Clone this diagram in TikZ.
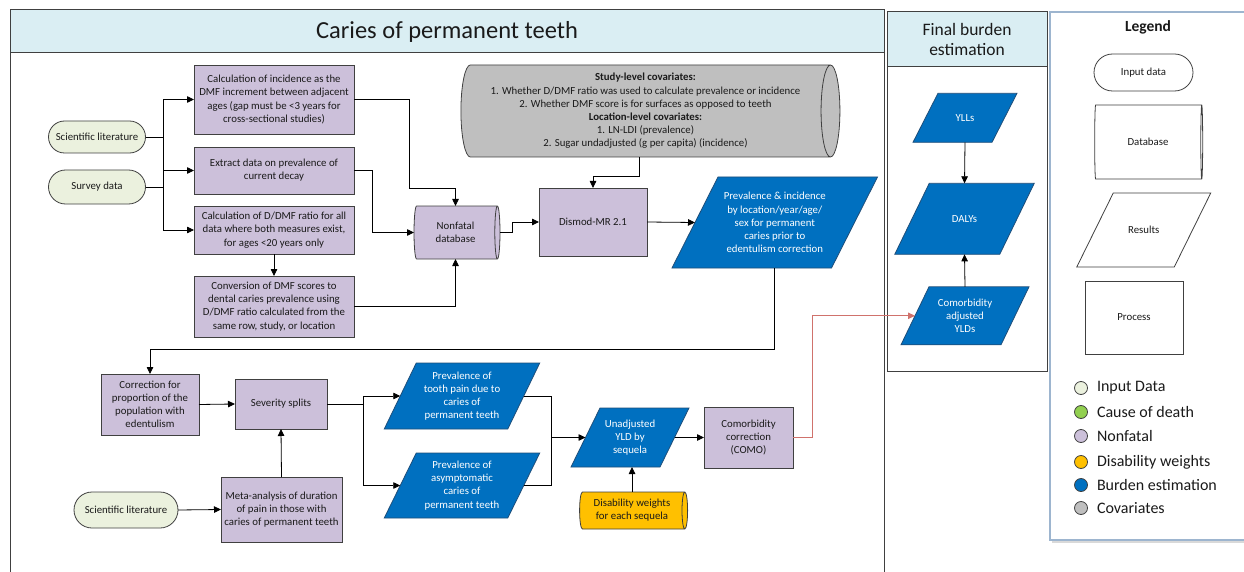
\documentclass[tikz,border=0pt]{standalone}
\usepackage{fontspec}
\setmainfont{Carlito}
\usetikzlibrary{shapes.geometric,shapes.misc,arrows.meta,calc}
\definecolor{hdr}{HTML}{DAEEF3}
\definecolor{nonfatal}{HTML}{CCC0DA}
\definecolor{inputc}{HTML}{EBF1DE}
\definecolor{burden}{HTML}{0070C0}
\definecolor{burdenline}{HTML}{1F4E79}
\definecolor{covc}{HTML}{BFBFBF}
\definecolor{dwc}{HTML}{FFC000}
\definecolor{codc}{HTML}{92D050}
\definecolor{linec}{HTML}{404040}
\definecolor{redc}{HTML}{D0726C}
\definecolor{legframe}{HTML}{9DB5CF}
\definecolor{txt}{HTML}{1A1A1A}
% #1 shape style, #2 name, #3 x, #4 y, #5 mid width, #6 height, #7 slant, #8 text
\newcommand{\paran}[8][burdenshape]{%
  \path[#1] ({#3-#5/2-#7/2},{#4+#6/2}) -- ({#3+#5/2-#7/2},{#4+#6/2}) -- ({#3+#5/2+#7/2},{#4-#6/2}) -- ({#3-#5/2+#7/2},{#4-#6/2}) -- cycle;
  \node[paratext, minimum width=#5pt, minimum height=#6pt] (#2) at (#3,#4) {#8};
}
\begin{document}
\begin{tikzpicture}[x=1pt,y=-1pt,
  every node/.style={inner sep=0pt, outer sep=0pt, text=txt},
  fs/.style={font=\fontsize{10.8}{13.2}\selectfont},
  proc/.style={rectangle, draw=linec, line width=0.8pt, fill=nonfatal, align=center, fs},
  inp/.style={rounded rectangle, draw=linec, line width=0.8pt, fill=inputc, align=center, fs},
  cyl/.style={cylinder, shape aspect=0.25, draw=linec, line width=0.8pt, align=center, fs},
  burdenshape/.style={draw=burdenline, line width=0.8pt, fill=burden},
  resultshape/.style={draw=linec, line width=0.8pt, fill=white},
  paratext/.style={align=center, fs, text=white},
  arr/.style={draw=black, line width=0.8pt, -{Triangle[length=7pt,width=6.5pt]}},
  conn/.style={draw=black, line width=0.8pt},
  dot/.style={circle, draw=linec, line width=0.8pt, minimum size=13pt},
  legtxt/.style={anchor=west, font=\fontsize{16}{18}\selectfont},
]
\useasboundingbox (0,0) rectangle (1244,572);
\fill[white] (0,0) rectangle (1244,572);

% ---- panels
\fill[hdr] (10,10) rectangle (884,53);
\draw[linec, line width=1pt] (10,580) -- (10,10) -- (884,10) -- (884,580);
\draw[linec, line width=1pt] (10,53) -- (884,53);
\node[font=\fontsize{24.5}{28}\selectfont] (title) at (447,32) {Caries of permanent teeth};

\draw[linec, line width=1pt, fill=hdr] (887,12) rectangle (1047,67);
\draw[linec, line width=1pt] (887,12) rectangle (1047,371);
\node[align=center, font=\fontsize{17.5}{20}\selectfont] (ftitle) at (967,39) {Final burden\\estimation};

\draw[black!15, line width=2pt] (1052,542) -- (1250,542);
\draw[legframe, line width=1.2pt] (1250,12) -- (1050,12) -- (1050,540) -- (1250,540);
\node[font=\bfseries\fontsize{15.5}{18}\selectfont] (legtitle) at (1148,27) {Legend};

% ---- caries panel nodes
\node[inp, minimum width=97pt, minimum height=32pt] (lit1) at (97,137) {Scientific literature};
\node[inp, minimum width=97pt, minimum height=34pt] (survey) at (97,187) {Survey data};
\node[proc, minimum width=160pt, minimum height=69pt] (calcinc) at (274,99.5) {Calculation of incidence as the\\DMF increment between adjacent\\ages (gap must be <3 years for\\cross-sectional studies)};
\node[proc, minimum width=160pt, minimum height=47pt] (extract) at (274,170.5) {Extract data on prevalence of\\current decay};
\node[proc, minimum width=160pt, minimum height=48pt] (dmfratio) at (274,230) {Calculation of D/DMF ratio for all\\data where both measures exist,\\for ages <20 years only};
\node[proc, minimum width=160pt, minimum height=61pt] (conversion) at (274,306.5) {Conversion of DMF scores to\\dental caries prevalence using\\D/DMF ratio calculated from the\\same row, study, or location};
\node[cyl, fill=nonfatal, minimum height=86pt, minimum width=53pt] (nfdb) at (455.5,232.5) {Nonfatal\\database};
\node[cyl, fill=covc, minimum height=379pt, minimum width=92pt] (cov) at (645.5,111) {\textbf{Study-level covariates:}\\1. Whether D/DMF ratio was used to calculate prevalence or incidence\\2. Whether DMF score is for surfaces as opposed to teeth\\\textbf{Location-level covariates:}\\1. LN-LDI (prevalence)\\2. Sugar undadjusted (g per capita) (incidence)};
\node[proc, minimum width=108pt, minimum height=68pt] (dismod) at (593,222) {Dismod-MR 2.1};
\paran{prev}{774.75}{222.5}{159.5}{91}{46}{Prevalence \& incidence\\by location/year/age/\\sex for permanent\\caries prior to\\edentulism correction}

\node[proc, minimum width=98pt, minimum height=61pt] (corr) at (150,404.5) {Correction for\\proportion of the\\population with\\edentulism};
\node[proc, minimum width=92pt, minimum height=50pt] (sev) at (281,404) {Severity splits};
\node[proc, minimum width=121pt, minimum height=65pt] (meta) at (281.5,509.5) {Meta-analysis of duration\\of pain in those with\\caries of permanent teeth};
\node[inp, minimum width=104pt, minimum height=36pt] (lit2) at (126,510) {Scientific literature};
\paran{pain}{462}{396}{123.5}{66}{32}{Prevalence of\\tooth pain due to\\caries of\\permanent teeth}
\paran{asym}{462}{485.5}{123.5}{65}{32}{Prevalence of\\asymptomatic\\caries of\\permanent teeth}
\paran{unadj}{630}{437.5}{89}{59}{29}{Unadjusted\\YLD by\\sequela}
\node[proc, minimum width=89pt, minimum height=61pt] (como) at (748.5,437.5) {Comorbidity\\correction\\(COMO)};
\node[cyl, fill=dwc, minimum height=108pt, minimum width=37pt] (dw) at (632,510.5) {Disability weights\\for each sequela};

% ---- final burden nodes
\paran{ylls}{965}{117.8}{79}{49}{25}{YLLs}
\paran{dalys}{964.5}{218.8}{105}{71}{34.5}{DALYs}
\paran{cay}{965}{315.8}{100}{58}{28}{Comorbidity\\adjusted\\YLDs}

% ---- legend shapes
\node[inp, fill=white, minimum width=99pt, minimum height=37pt] (lgin) at (1143.5,72.5) {Input data};
\node[cyl, fill=white, minimum height=108pt, minimum width=74pt] (lgdb) at (1148,142) {Database};
\paran[resultshape]{lgres}{1143.75}{230}{97.5}{74}{36.5}{\color{txt}Results}
\node[rectangle, draw=linec, line width=0.8pt, fs, minimum width=98pt, minimum height=73pt] (lgproc) at (1134,317.5) {Process};

\node[dot, fill=inputc] (d1) at (1081,388) {}; \node[legtxt] (t1) at (1097,388) {Input Data};
\node[dot, fill=codc] (d2) at (1081,412) {}; \node[legtxt] (t2) at (1097,412) {Cause of death};
\node[dot, fill=nonfatal] (d3) at (1081,436) {}; \node[legtxt] (t3) at (1097,436) {Nonfatal};
\node[dot, fill=dwc] (d4) at (1081,462) {}; \node[legtxt] (t4) at (1097,462) {Disability weights};
\node[dot, fill=burden] (d5) at (1081,485) {}; \node[legtxt] (t5) at (1097,485) {Burden estimation};
\node[dot, fill=covc] (d6) at (1081,508) {}; \node[legtxt] (t6) at (1097,508) {Covariates};

% ---- connectors
\coordinate (bus) at (163,137);
\draw[conn] (lit1.east) -- (lit1.east -| bus);
\draw[conn] (survey.east) -- (survey.east -| bus);
\draw[conn] (calcinc.west -| bus) -- (dmfratio.west -| bus);
\draw[arr] (calcinc.west -| bus) -- (calcinc.west);
\draw[arr] (extract.west -| bus) -- (extract.west);
\draw[arr] (dmfratio.west -| bus) -- (dmfratio.west);
\draw[arr] (calcinc.east) -- ++(55,0) |- ($(nfdb.north)+(0,-18)$) -- (nfdb.north);
\draw[arr] (extract.east) -- ++(18,0) |- (nfdb.west);
\draw[arr] (dmfratio.south) -- (conversion.north);
\draw[arr] (conversion.east) -| (nfdb.south);
\draw[arr] (nfdb.east) -- ++(12,0) |- (dismod.west);
\draw[arr] ($(cov.south)+(-6,0)$) -- ++(0,19) -| (dismod.north);
\draw[arr] (dismod.east) -- (prev.west);
\draw[arr] (prev.south) -- ++(0,81) -| (corr.north);
\draw[arr] (corr.east) -- (sev.west);
\draw[arr] (meta.north) -- (sev.south);
\draw[arr] (lit2.east) -- (meta.west);
\draw[conn] (sev.east) -- ++(36,0) coordinate (b2);
\draw[conn] (b2 |- pain.west) -- (b2 |- asym.west);
\draw[arr] (b2 |- pain.west) -- (pain.west);
\draw[arr] (b2 |- asym.west) -- (asym.west);
\draw[conn] (pain.east) -- ++(28,0) coordinate (b3) -- (b3 |- asym.east) -- (asym.east);
\draw[arr] (b3 |- unadj.west) -- (unadj.west);
\draw[arr] (unadj.east) -- (como.west);
\draw[arr] (dw.north) -- (dw.north |- unadj.south);
\draw[arr, draw=redc] (como.east) -- ++(19,0) |- (cay.west);
\draw[arr] (ylls.south) -- (dalys.north);
\draw[arr] (cay.north) -- (dalys.south);
\end{tikzpicture}
\end{document}
